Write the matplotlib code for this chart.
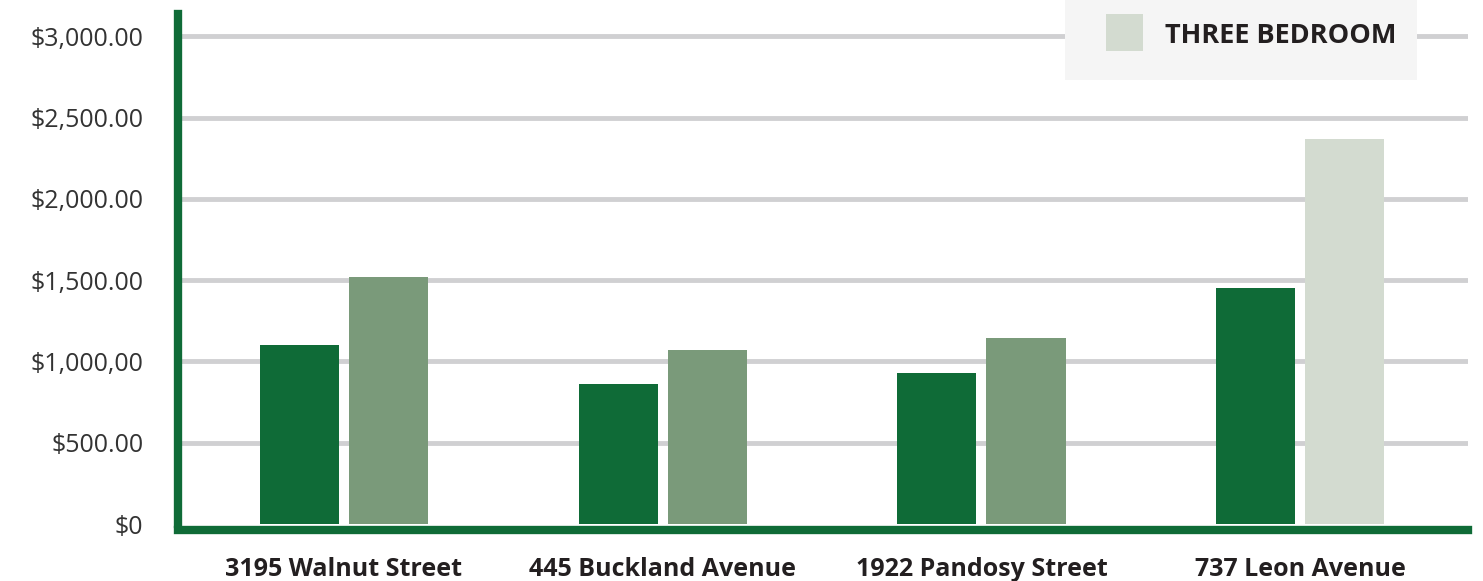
import matplotlib
matplotlib.use("Agg")
import matplotlib.pyplot as plt
from matplotlib.patches import Rectangle
import numpy as np

categories = ["3195 Walnut Street", "445 Buckland Avenue", "1922 Pandosy Street", "737 Leon Avenue"]
series_a = [1100, 860, 930, 1450]
series_b = [1520, 1070, 1145, 2370]
ytick_values = [0, 500, 1000, 1500, 2000, 2500, 3000]
ytick_labels = ["$0", "$500.00", "$1,000,00", "$1,500.00", "$2,000.00", "$2,500.00", "$3,000.00"]
legend_label = "THREE BEDROOM"

dark = "#0f6b37"
mid = "#7a9a7a"
light = "#d3dbd0"
text_c = "#231f20"
b_colors = [mid, mid, mid, light]

W, H = 1483, 581
fig = plt.figure(figsize=(W/100, H/100), dpi=100)
ax = fig.add_axes([178/W, 57/H, (1468-178)/W, (524-14)/H])

for s in ["top", "right"]:
    ax.spines[s].set_visible(False)
for s in ["left", "bottom"]:
    ax.spines[s].set_color(dark)
    ax.spines[s].set_linewidth(6)
    ax.spines[s].set_zorder(4)
ax.spines["bottom"].set_position(("outward", 4))

x = np.arange(len(categories))
w = 0.248
off = 0.1396
ax.bar(x - off, series_a, width=w, color=dark, zorder=3)
ax.bar(x + off, series_b, width=w, color=b_colors, zorder=3)

ax.set_xlim(-0.52, 3.526)
ax.set_ylim(0, 3137)
ax.spines["left"].set_bounds(0, 3137)
ax.set_yticks(ytick_values)
ax.set_yticklabels(ytick_labels, fontfamily="Open Sans", fontsize=18, color="#333333")
ax.set_xticks(x)
ax.set_xticklabels(categories, fontfamily="Open Sans", fontweight="bold", fontsize=18, color=text_c)
ax.tick_params(axis="both", length=0)
ax.tick_params(axis="y", pad=25)
ax.tick_params(axis="x", pad=20)

ax.yaxis.grid(True, color="#d0d0d2", linewidth=3.5, zorder=0)
ax.set_axisbelow(True)
ax.yaxis.get_gridlines()[0].set_visible(False)

# legend box (drawn in figure pixel fractions)
fig.patches.append(Rectangle((1065/W, 1 - 80/H), (1417-1065)/W, 80/H + 0.05,
                             transform=fig.transFigure, facecolor="#f5f5f5",
                             edgecolor="none", zorder=5))
fig.patches.append(Rectangle((1106/W, 1 - 51/H), 37/W, 37/H,
                             transform=fig.transFigure, facecolor=light,
                             edgecolor="none", zorder=6))
fig.text(1165/W, 1 - 36/H, legend_label, fontfamily="Open Sans", fontweight="bold",
         fontsize=19.5, color=text_c, va="center", ha="left", zorder=7)

fig.savefig("out.png", dpi=100)
